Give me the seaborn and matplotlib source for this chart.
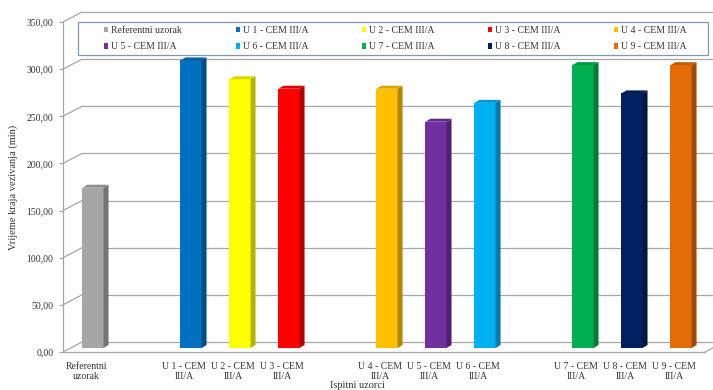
import numpy as np
import pandas as pd
import matplotlib
matplotlib.use("Agg")
import matplotlib.pyplot as plt
from matplotlib.patches import Polygon, Patch, Rectangle
from matplotlib.transforms import offset_copy
import matplotlib.colors as mcolors
import seaborn as sns

# ---- data ----
samples = ["Referentni uzorak", "U 1 - CEM III/A", "U 2 - CEM III/A", "U 3 - CEM III/A",
           "U 4 - CEM III/A", "U 5 - CEM III/A", "U 6 - CEM III/A",
           "U 7 - CEM III/A", "U 8 - CEM III/A", "U 9 - CEM III/A"]
tick_labels = ["Referentni\nuzorak", "U 1 - CEM\nIII/A", "U 2 - CEM\nIII/A", "U 3 - CEM\nIII/A",
               "U 4 - CEM\nIII/A", "U 5 - CEM\nIII/A", "U 6 - CEM\nIII/A",
               "U 7 - CEM\nIII/A", "U 8 - CEM\nIII/A", "U 9 - CEM\nIII/A"]
set_time = [170, 305, 285, 275, 275, 240, 260, 300, 270, 300]
slots = [0, 2, 3, 4, 6, 7, 8, 10, 11, 12]
colors = ["#a6a6a6", "#0070c0", "#ffff00", "#ff0000", "#ffc000",
          "#7030a0", "#00b0f0", "#00b050", "#002060", "#e36c09"]
yticks = [0, 50, 100, 150, 200, 250, 300, 350]

df = pd.DataFrame({"slot": slots, "value": set_time, "sample": samples})

sns.set_theme(style="white")
plt.rcParams["font.family"] = ["Liberation Serif", "DejaVu Serif"]

W, H, DPI = 713, 390, 100
fig = plt.figure(figsize=(W / DPI, H / DPI), dpi=DPI)
ax_l, ax_r, ax_b, ax_t = 63, 705, 38, 368
ax = fig.add_axes([ax_l / W, ax_b / H, (ax_r - ax_l) / W, (ax_t - ax_b) / H])

sns.barplot(data=df, x="slot", y="value", hue="sample", hue_order=samples,
            palette=dict(zip(samples, colors)), native_scale=True, dodge=False,
            width=0.43, saturation=1, legend=False, ax=ax, zorder=3)

# axis geometry (pixels per slot and per unit)
slot0_px, slot_px = 86, 49
ax.set_xlim((ax_l - slot0_px) / slot_px, (ax_r - slot0_px) / slot_px)
ax.set_ylim(0, 350)
px_per_unit = (ax_t - ax_b) / 350.0

# depth of the chart box and position of the bar row inside it (pixels)
wall_dx, wall_dy = 19, 10
bar_dx, bar_dy = 7, 4
bar_depth_x, bar_depth_y = 5, 3

bar_trans = offset_copy(ax.transData, fig=fig, x=bar_dx, y=bar_dy, units="dots")
ddx = bar_depth_x / slot_px
ddy = bar_depth_y / px_per_unit

for p in list(ax.patches):
    p.set_transform(bar_trans)
    p.set_edgecolor("none")
    x0, w, h = p.get_x(), p.get_width(), p.get_height()
    base = np.array(mcolors.to_rgb(p.get_facecolor()))
    side = Polygon([(x0 + w, 0), (x0 + w + ddx, ddy), (x0 + w + ddx, h + ddy), (x0 + w, h)],
                   closed=True, facecolor=base * 0.7, edgecolor="none",
                   transform=bar_trans, zorder=3)
    top = Polygon([(x0, h), (x0 + w, h), (x0 + w + ddx, h + ddy), (x0 + ddx, h + ddy)],
                  closed=True, facecolor=base * 0.85, edgecolor="none",
                  transform=bar_trans, zorder=3)
    ax.add_patch(side)
    ax.add_patch(top)

# back wall grid, left wall and floor edges
grid_c = "#a6a6a6"
ytr = ax.get_yaxis_transform()
dxa = wall_dx / (ax_r - ax_l)
dyd = wall_dy / px_per_unit
for t in yticks:
    ax.plot([0, dxa], [t, t + dyd], color=grid_c, lw=0.9, transform=ytr, clip_on=False, zorder=1)
    ax.plot([dxa, 1.2], [t + dyd, t + dyd], color=grid_c, lw=0.9, transform=ytr,
            clip_on=False, zorder=1)
ax.plot([1, 1 + dxa], [0, dyd], color=grid_c, lw=0.9, transform=ytr, clip_on=False, zorder=1)

for s in ["top", "right"]:
    ax.spines[s].set_visible(False)
for s in ["left", "bottom"]:
    ax.spines[s].set_color(grid_c)
    ax.spines[s].set_linewidth(0.9)

ax.set_yticks(yticks)
ax.set_yticklabels([f"{v:.2f}".replace(".", ",") for v in yticks])
ax.tick_params(axis="y", direction="out", length=3, width=0.8, color=grid_c,
               labelsize=7, labelcolor="#333333", pad=4, left=True)
ax.set_xticks(slots)
ax.set_xticklabels(tick_labels)
ax.tick_params(axis="x", length=0, labelsize=7, labelcolor="#333333", pad=7)
for lab in ax.get_xticklabels():
    lab.set_linespacing(1.2)

ax.set_xlabel("Ispitni uzorci", fontsize=7.5, color="#333333")
ax.set_ylabel("Vrijeme kraja vezivanja (min)", fontsize=7.5, color="#333333", labelpad=6)
ax.xaxis.set_label_coords((357 - ax_l) / (ax_r - ax_l), -(385 - (H - ax_b)) / (ax_t - ax_b))
ax.xaxis.label.set_va("center")

# legend: frame drawn separately, entries spread over five columns, row-wise order
frame = Rectangle((78 / W, 1 - 55 / H), (708 - 78) / W, (55 - 22) / H,
                  transform=fig.transFigure, facecolor="white", edgecolor="#8496b0",
                  lw=0.9, zorder=5)
fig.add_artist(frame)
handles = [Patch(facecolor=c, edgecolor="none", label=s) for s, c in zip(samples, colors)]
order = [0, 5, 1, 6, 2, 7, 3, 8, 4, 9]
leg = fig.legend([handles[i] for i in order], [samples[i] for i in order],
                 loc="center", bbox_to_anchor=(103 / W, 1 - 55 / H, (688 - 103) / W, (55 - 22) / H),
                 mode="expand", ncol=5, frameon=False, fontsize=7,
                 handlelength=0.45, handleheight=0.45, handletextpad=0.3,
                 labelspacing=0.8, borderpad=0.1, borderaxespad=0)
leg.set_zorder(6)
for txt in leg.get_texts():
    txt.set_color("#333333")

fig.savefig("out.png", dpi=DPI, facecolor="white")
